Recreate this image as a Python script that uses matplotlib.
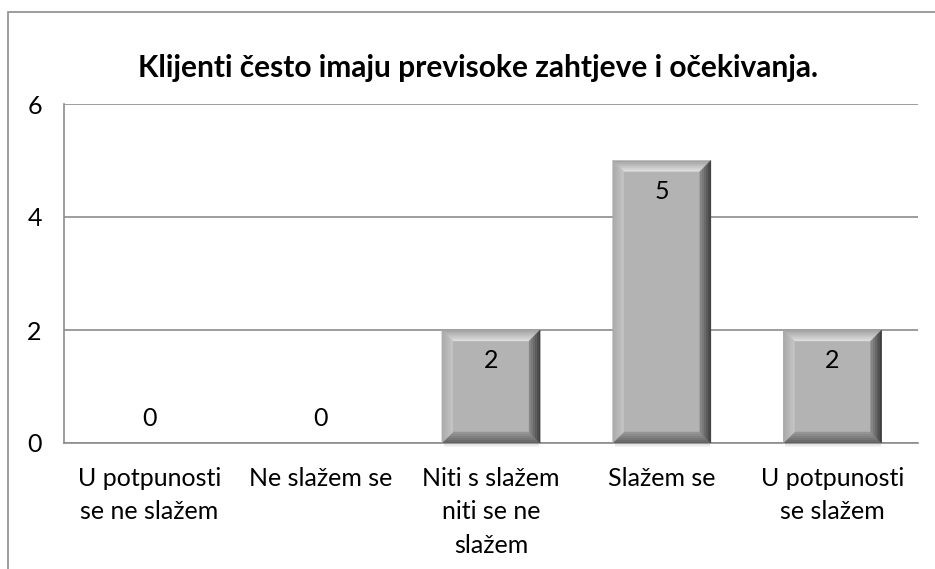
import numpy as np
import matplotlib.pyplot as plt
from matplotlib.patches import Polygon, Rectangle

# survey answers and counts
categories = ['U potpunosti\nse ne slažem', 'Ne slažem se', 'Niti s slažem\nniti se ne\nslažem',
              'Slažem se', 'U potpunosti\nse slažem']
counts = [0, 0, 2, 5, 2]
yticks = [0, 2, 4, 6]
title = 'Klijenti često imaju previsoke zahtjeve i očekivanja.'

plt.rcParams['font.family'] = ['Lato', 'DejaVu Sans']


def mix(c0, c1, t):
    c0 = np.array(c0)
    c1 = np.array(c1)
    return tuple(c0 + (c1 - c0) * t)


def bevel_bar(ax, x0, x1, y0, y1, bx, by, n=6):
    # colours for each side, outer edge -> inner edge
    sides = {
        'top': ((0.62, 0.62, 0.62), (0.88, 0.88, 0.88)),
        'left': ((0.66, 0.66, 0.66), (0.78, 0.78, 0.78)),
        'right': ((0.22, 0.22, 0.22), (0.55, 0.55, 0.55)),
        'bottom': ((0.36, 0.36, 0.36), (0.60, 0.60, 0.60)),
    }
    for k in range(n):
        t0, t1 = k / n, (k + 1) / n
        a = (x0 + t0 * bx, x1 - t0 * bx, y0 + t0 * by, y1 - t0 * by)
        b = (x0 + t1 * bx, x1 - t1 * bx, y0 + t1 * by, y1 - t1 * by)
        tm = (k + 0.5) / n
        polys = {
            'top': [(a[0], a[3]), (a[1], a[3]), (b[1], b[3]), (b[0], b[3])],
            'bottom': [(a[0], a[2]), (a[1], a[2]), (b[1], b[2]), (b[0], b[2])],
            'left': [(a[0], a[2]), (a[0], a[3]), (b[0], b[3]), (b[0], b[2])],
            'right': [(a[1], a[2]), (a[1], a[3]), (b[1], b[3]), (b[1], b[2])],
        }
        for side, pts in polys.items():
            c = mix(*sides[side], tm)
            ax.add_patch(Polygon(pts, closed=True, facecolor=c, edgecolor=c,
                                 linewidth=0.3, zorder=4))


fig = plt.figure(figsize=(9.35, 5.69), dpi=100)
W, H = 935, 569
PL, PR, PT, PB = 64, 918, 104, 443  # plot area in pixels

# outer chart border (only top/left visible in the crop)
fig.patches.append(Rectangle((8 / W, -0.2), 1.2, (H - 12) / H + 0.2, transform=fig.transFigure,
                             fill=False, edgecolor='#8c8c8c', linewidth=1.2))

ax = fig.add_axes([PL / W, (H - PB) / H, (PR - PL) / W, (PB - PT) / H])
x = np.arange(len(categories))
ax.set_xlim(-0.5, len(categories) - 0.5)
ax.set_ylim(0, 6)
ax.set_yticks(yticks)
ax.set_xticks(x)
ax.set_xticklabels(categories, fontsize=18, linespacing=1.55)
ax.tick_params(axis='both', length=0, labelsize=18, colors='black')
ax.tick_params(axis='y', pad=16)
ax.tick_params(axis='x', pad=17)
for s in ['top', 'right']:
    ax.spines[s].set_visible(False)
for s in ['left', 'bottom']:
    ax.spines[s].set_color('#8c8c8c')
    ax.spines[s].set_linewidth(1.2)
ax.yaxis.grid(True, color='#8c8c8c', linewidth=1.2)
ax.set_axisbelow(True)

width = 0.575
bars = ax.bar(x, counts, width=width, color='#b3b3b3', zorder=3)

# bevel size in pixels -> data units
px_x = (ax.get_xlim()[1] - ax.get_xlim()[0]) / (PR - PL)
px_y = (ax.get_ylim()[1] - ax.get_ylim()[0]) / (PB - PT)
for rect, v in zip(bars, counts):
    if v <= 0:
        continue
    x0 = rect.get_x()
    x1 = x0 + rect.get_width()
    # soft shadow below the bar
    for i in range(4):
        ax.add_patch(Rectangle((x0 + 2 * px_x, -(i + 1) * px_y), rect.get_width() - 3 * px_x,
                               px_y, facecolor='#9a9a9a', alpha=0.35 - i * 0.08,
                               edgecolor='none', clip_on=False, zorder=2))
    bevel_bar(ax, x0, x1, 0, v, 11 * px_x, 11 * px_y)

for xi, v in zip(x, counts):
    if v > 0:
        ax.annotate(str(v), (xi, v), xytext=(0, -22), textcoords='offset points',
                    ha='center', va='center', fontsize=18, zorder=6)
    else:
        ax.annotate(str(v), (xi, v), xytext=(0, 18), textcoords='offset points',
                    ha='center', va='center', fontsize=18, zorder=6)

fig.text(478 / W, 1 - 68 / H, title, ha='center', va='center', fontsize=21.5,
         fontweight='bold')

fig.savefig('out.png', dpi=100)
